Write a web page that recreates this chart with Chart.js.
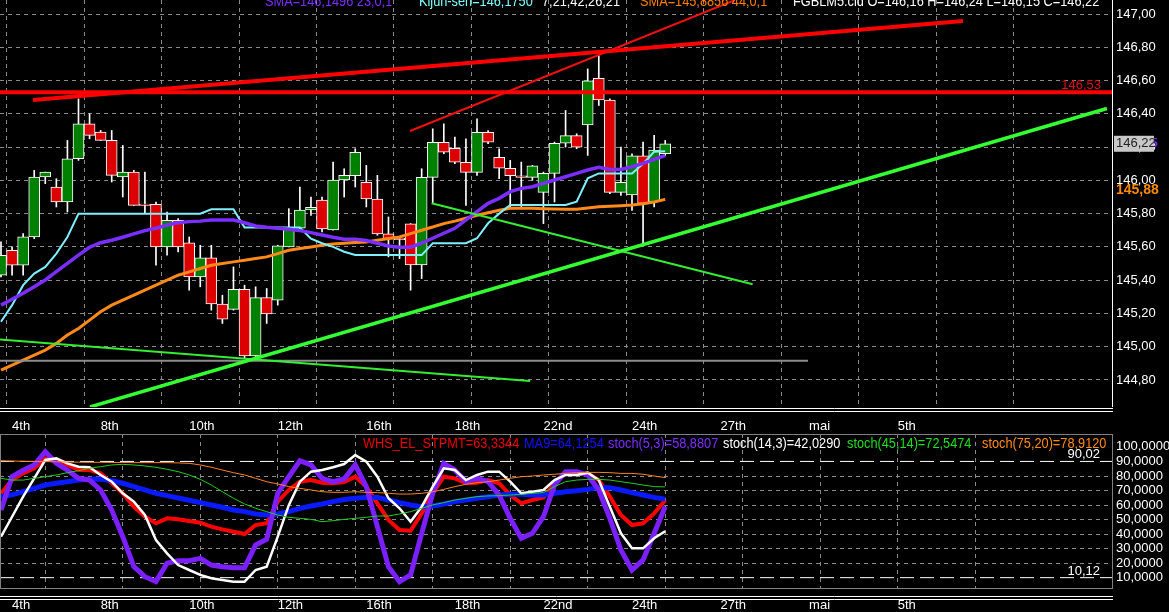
<!DOCTYPE html>
<html>
<head>
<meta charset="utf-8">
<script src="https://cdn.jsdelivr.net/npm/chart.js@4.4.1/dist/chart.umd.min.js"></script>
<style>
  body { margin: 0; background: #000; overflow: hidden; }
  #wrap { position: relative; width: 1169px; height: 612px; overflow: hidden; background: #000; }
  canvas { position: absolute; left: 0; }
  .hd { position: absolute; font: 15px "Liberation Sans", Arial, sans-serif; line-height: 15px; white-space: pre;
        transform: scaleX(0.85); transform-origin: 0 0; }
</style>
</head>
<body>
<div id="wrap">
  <canvas id="top" width="1169" height="432" style="top:0"></canvas>
  <canvas id="bot" width="1169" height="180" style="top:432px"></canvas>

  <div class="hd" style="left:265px;top:-7px;color:#7b2fff">SMA=146,1496 23,0,1</div>
  <div class="hd" style="left:419px;top:-7px;color:#80ffff">Kijun-sen=146,1750</div>
  <div class="hd" style="left:542px;top:-7px;color:#fff">7,21,42,26,21</div>
  <div class="hd" style="left:640px;top:-7px;color:#ff8000">SMA=145,8856 44,0,1</div>
  <div class="hd" style="left:793px;top:-7px;color:#fff">FGBLM5.cld O=146,16 H=146,24 L=146,15 C=146,22</div>

  <div class="hd" style="left:363px;top:435px;color:#ee0000">WHS_EL_STPMT=63,3344</div>
  <div class="hd" style="left:524px;top:435px;color:#1010ff">MA9=64,1254</div>
  <div class="hd" style="left:608px;top:435px;color:#7b2fff">stoch(5,3)=58,8807</div>
  <div class="hd" style="left:723px;top:435px;color:#fff">stoch(14,3)=42,0290</div>
  <div class="hd" style="left:847px;top:435px;color:#22dd22">stoch(45,14)=72,5474</div>
  <div class="hd" style="left:982px;top:435px;color:#ff8c1a">stoch(75,20)=78,9120</div>
</div>

<script>
const FONT = '"Liberation Sans", Arial, sans-serif';
const FSIZE = 13;

// bougies FGBLM5, une par barre (index 0..60)
const opens = [145.43, 145.58, 145.49, 145.66, 146.02, 145.96, 145.87, 146.13, 146.34, 146.29,
  146.24, 146.02, 146.05, 145.858, 145.856, 145.60, 145.76, 145.625, 145.42, 145.535,
  145.257, 145.225, 145.345, 144.944, 145.295, 145.28, 145.60, 145.712, 145.822, 145.882,
  145.702, 146.002, 146.028, 145.988, 145.888, 145.678, 145.652, 145.738, 145.491, 146.018,
  146.229, 146.193, 146.109, 146.048, 146.289, 146.139, 146.073, 146.028, 146.018, 145.928,
  146.042, 146.223, 146.269, 146.333, 146.613, 146.483, 145.928, 145.912, 146.148, 145.872,
  146.16];
const highs = [145.63, 145.60, 145.68, 146.06, 146.05, 146.01, 146.24, 146.49, 146.40, 146.30,
  146.30, 146.21, 146.06, 146.05, 145.87, 145.81, 145.77, 145.66, 145.61, 145.61,
  145.31, 145.48, 145.37, 145.36, 145.35, 145.61, 145.83, 145.96, 145.90, 145.90,
  146.11, 146.07, 146.19, 146.09, 146.03, 145.78, 145.66, 145.74, 146.07, 146.31,
  146.34, 146.26, 146.25, 146.37, 146.30, 146.19, 146.12, 146.11, 146.09, 146.05,
  146.23, 146.42, 146.28, 146.67, 146.75, 146.49, 146.20, 146.16, 146.23, 146.27,
  146.24];
const lows = [145.42, 145.43, 145.43, 145.65, 145.98, 145.84, 145.81, 146.12, 146.25, 146.24,
  145.99, 145.90, 145.85, 145.80, 145.49, 145.55, 145.57, 145.34, 145.36, 145.22,
  145.14, 145.22, 144.93, 144.93, 145.14, 145.25, 145.60, 145.71, 145.79, 145.69,
  145.70, 145.90, 145.96, 145.84, 145.67, 145.54, 145.53, 145.34, 145.41, 145.86,
  146.16, 146.10, 145.85, 146.03, 146.22, 146.01, 145.84, 145.84, 146.00, 145.74,
  145.87, 146.20, 146.19, 146.15, 146.45, 145.92, 145.91, 145.82, 145.62, 145.84,
  146.15];
const closes = [145.55, 145.49, 145.66, 146.02, 146.05, 145.87, 146.13, 146.34, 146.27, 146.24,
  146.03, 146.05, 145.85, 145.850, 145.60, 145.76, 145.60, 145.42, 145.535, 145.257,
  145.165, 145.345, 144.944, 145.295, 145.197, 145.607, 145.712, 145.822, 145.838, 145.708,
  146.002, 146.03, 146.169, 145.888, 145.678, 145.646, 145.644, 145.491, 146.018, 146.229,
  146.169, 146.109, 146.048, 146.289, 146.229, 146.073, 146.028, 146.018, 146.088, 146.042,
  146.223, 146.269, 146.199, 146.599, 146.483, 145.928, 145.988, 146.148, 145.862, 146.182,
  146.22];

// moyennes du panneau prix
const sma23 = [145.25, 145.285, 145.321, 145.361, 145.401, 145.451, 145.501, 145.551, 145.598, 145.625,
  145.64, 145.658, 145.678, 145.698, 145.712, 145.732, 145.745, 145.752, 145.755, 145.762,
  145.762, 145.762, 145.745, 145.726, 145.718, 145.712, 145.706, 145.698, 145.686, 145.672,
  145.658, 145.646, 145.646, 145.638, 145.622, 145.606, 145.598, 145.598, 145.622, 145.652,
  145.682, 145.712, 145.762, 145.812, 145.862, 145.892, 145.932, 145.952, 145.962, 145.982,
  146.002, 146.022, 146.042, 146.062, 146.078, 146.066, 146.066, 146.082, 146.102, 146.126,
  146.1496];
const kijun = [145.15, 145.25, 145.37, 145.44, 145.48, 145.56, 145.66, 145.80, 145.80, 145.80,
  145.80, 145.80, 145.80, 145.80, 145.80, 145.80, 145.80, 145.80, 145.80, 145.826,
  145.826, 145.826, 145.716, 145.716, 145.716, 145.716, 145.716, 145.716, 145.65, 145.622,
  145.60, 145.571, 145.551, 145.551, 145.551, 145.551, 145.551, 145.551, 145.551, 145.622,
  145.622, 145.622, 145.622, 145.652, 145.742, 145.80, 145.852, 145.852, 145.852, 145.852,
  145.852, 145.852, 145.872, 146.012, 146.042, 146.042, 146.042, 146.042, 146.10, 146.172,
  146.175];
const sma44 = [144.86, 144.89, 144.92, 144.95, 144.98, 145.02, 145.07, 145.11, 145.16, 145.21,
  145.25, 145.28, 145.31, 145.34, 145.37, 145.40, 145.43, 145.45, 145.47, 145.49,
  145.50, 145.51, 145.52, 145.53, 145.54, 145.56, 145.58, 145.59, 145.60, 145.61,
  145.618, 145.622, 145.626, 145.63, 145.64, 145.65, 145.66, 145.68, 145.70, 145.72,
  145.74, 145.755, 145.772, 145.79, 145.805, 145.82, 145.832, 145.832, 145.832, 145.83,
  145.828, 145.826, 145.826, 145.834, 145.842, 145.845, 145.848, 145.852, 145.86, 145.87,
  145.8856];

// oscillateurs du panneau bas
const whs = [68.1, 77.2, 81.8, 85.3, 92.1, 89.9, 87.6, 84.1, 84.1, 81.8,
  75, 68.1, 58.9, 52, 47.5, 50.9, 50.2, 49.1, 47.9, 45.2,
  43.3, 41.7, 40.1, 46.3, 47.5, 62.4, 70.4, 76.1, 77.2, 75.4,
  75, 75.8, 79.5, 72.7, 61.2, 49.8, 42.9, 42.4, 54.3, 68.1,
  79.5, 78.4, 75, 75.4, 77.2, 75, 66.9, 61.2, 63.5, 65.3,
  75, 81.8, 81.8, 81.8, 77.2, 65.8, 53.2, 46.3, 47.5, 54.3,
  63.3];
const ma9 = [65.8, 67, 69.2, 71.5, 73.8, 75, 76.1, 77.2, 77.7, 77.9,
  76.8, 75, 72.7, 70.4, 68.1, 66.5, 64.9, 63.3, 61.7, 60.1,
  58.5, 56.6, 55.5, 53.9, 53.2, 53.9, 55.5, 57.8, 59.4, 60.8,
  62.4, 63.8, 64.7, 65.3, 65.3, 63.5, 61.7, 60.1, 58.9, 59.4,
  60.8, 62.4, 63.5, 64.7, 65.8, 66.9, 67.4, 67.4, 66.9, 66.9,
  68.1, 69.2, 69.9, 70.8, 72, 72, 70.4, 68.6, 66.9, 65.3,
  64.1];
const stoch5 = [56.6, 79.5, 84, 87.6, 96.7, 88.7, 84, 78.4, 77.2, 70.4,
  56.6, 38.3, 17.7, 10.8, 7.4, 20, 21.8, 21.8, 23.4, 18.8,
  17.7, 17, 17, 32.6, 36.5, 68.1, 79.5, 90.5, 87.6, 78.4,
  76.1, 78, 87.6, 72.7, 45.2, 17.7, 7.4, 12, 40.6, 68.1,
  88.7, 84.1, 76.1, 78.4, 76.1, 66.9, 50.9, 37.2, 40.6, 52,
  73.8, 83, 83, 80.7, 70.4, 50.9, 29.1, 15.4, 22.3, 40.6,
  58.9];
const stoch14 = [38.3, 52, 65.8, 78.4, 91, 92.1, 88.7, 86.4, 86, 80.7,
  76.1, 68.1, 62.4, 53.2, 36, 26.8, 18.8, 15.4, 12, 9.7,
  8.5, 7.4, 7.4, 15.4, 17.7, 38.3, 60, 76.1, 83, 84.1,
  86, 88.2, 94.4, 89.9, 79.5, 64.7, 57.8, 48.6, 58.9, 72.7,
  85.3, 84.1, 77.2, 80.7, 83, 83, 76.1, 68.1, 69.2, 70.4,
  77.2, 80.7, 80.7, 82.3, 77.2, 58.9, 40.6, 30.3, 30.3, 37.2,
  42];
const stoch45 = [78.4, 77.2, 77.2, 78.4, 79.5, 80.7, 82.3, 83.7, 85.3, 86.4,
  87.6, 88, 87.6, 86.9, 86, 84.6, 83, 80.7, 77.7, 73.8,
  69.2, 64.7, 60.8, 57.8, 55.5, 53.2, 51.6, 50.9, 50.2, 48.6,
  49.3, 50.2, 50.9, 51.6, 52.5, 52.5, 53.9, 55.5, 57.8, 60.1,
  61.7, 63.5, 64.7, 65.8, 66.3, 66.5, 66.9, 67.4, 68.1, 68.6,
  72.7, 76.1, 77.2, 77.7, 77.7, 77.2, 76.1, 75, 73.8, 72.7,
  72.5];
const stoch75 = [90.5, 90.3, 90.1, 90, 89.9, 89.8, 89.6, 89.5, 89.4, 89.4,
  89.3, 89.3, 89.2, 89.2, 89.2, 89.2, 89, 88.7, 87.6, 86,
  84.1, 82.3, 80.7, 78.4, 76.1, 74.5, 72.7, 71.5, 70.4, 69.2,
  68.8, 68.8, 69.2, 68.8, 68.6, 68.1, 67.6, 67.6, 68.1, 69.2,
  70.8, 72.7, 74.3, 75.4, 76.1, 77.2, 78.4, 79.5, 80, 80.7,
  81.2, 81.8, 82.3, 82.5, 82.5, 82.3, 81.8, 81.8, 81.2, 80,
  78.9];

// axes
const dateLabels = ["4th", "8th", "10th", "12th", "16th", "18th", "22nd", "24th", "27th", "mai", "5th"];
const labelBars = [1, 9, 17, 25, 33, 41, 49, 57, 65, 73, 81];
const gridBars = [4, 11, 18, 25, 32, 39, 46, 53, 60, 67, 74, 81, 88];
const priceTicks = [144.8, 145.0, 145.2, 145.4, 145.6, 145.8, 146.0, 146.2, 146.4, 146.6, 146.8, 147.0];
const oscTicks = [10, 20, 30, 40, 50, 60, 70, 80, 90, 100];
const oscLevels = [90.02, 10.12];
const resistance = 146.53;

// lignes tracées à la main : [barre, prix]
const redUpper = [[2.89, 146.483], [86.9, 146.958]];
const redThin = [[36.95, 146.297], [66.3, 147.084]];
const greenUpper = [[8.04, 144.638], [99.9, 146.432]];
const greenLeft = [[-0.09, 145.044], [47.8, 144.794]];
const greenMid = [[38.9, 145.862], [67.9, 145.376]];
const grayLine = [[-0.09, 144.916], [72.9, 144.916]];

const xMin = -0.09, xMax = 100.36;

const fmt2 = (v) => v.toFixed(2).replace(".", ",");
const trunc2 = (v) => (Math.floor(v * 100) / 100).toFixed(2).replace(".", ",");
const fmt4 = (v) => v.toFixed(4).replace(".", ",");
const pts = (arr) => arr.map((v, i) => ({ x: i, y: v }));
const last = (arr) => arr[arr.length - 1];

function seg(points, color, width, order) {
  return {
    type: "line",
    data: points.map((p) => ({ x: p[0], y: p[1] })),
    borderColor: color,
    borderWidth: width,
    pointRadius: 0,
    tension: 0,
    order: order,
  };
}

function curve(arr, color, width, order) {
  return {
    type: "line",
    data: pts(arr),
    borderColor: color,
    borderWidth: width,
    pointRadius: 0,
    tension: 0,
    order: order,
  };
}

function xAxes(labelPadding, axisHeight) {
  return {
    x: {
      type: "linear", min: xMin, max: xMax, offset: false, position: "bottom",
      grid: { display: false, drawTicks: false },
      border: { display: false },
      afterBuildTicks: (s) => { s.ticks = labelBars.map((v) => ({ value: v })); },
      afterFit: (s) => { s.height = axisHeight; s.paddingLeft = 0; s.paddingRight = 0; },
      ticks: {
        color: "#fff", font: { family: FONT, size: FSIZE }, padding: labelPadding,
        align: "start", maxRotation: 0, autoSkip: false,
        callback: (v, i) => dateLabels[i],
      },
    },
    xg: {
      type: "linear", min: xMin, max: xMax, offset: false, position: "top",
      grid: { color: "#8a8a8a", drawTicks: false },
      border: { display: false, dash: [4, 4] },
      ticks: { display: false },
      afterBuildTicks: (s) => { s.ticks = gridBars.map((v) => ({ value: v })); },
      afterFit: (s) => { s.height = 0; },
    },
  };
}

// décor du panneau prix
const topDecor = {
  id: "topDecor",
  afterDraw(chart) {
    const { ctx, chartArea: a } = chart;
    const y = chart.scales.y;
    ctx.save();
    ctx.strokeStyle = "#fff";
    ctx.lineWidth = 1;
    ctx.beginPath();
    ctx.moveTo(a.right + 0.5, 0); ctx.lineTo(a.right + 0.5, a.bottom);
    ctx.moveTo(0, a.bottom + 1.5); ctx.lineTo(a.right + 1, a.bottom + 1.5);
    ctx.moveTo(0, a.bottom + 4.5); ctx.lineTo(a.right + 1, a.bottom + 4.5);
    ctx.stroke();

    ctx.font = FSIZE + "px " + FONT;
    ctx.textAlign = "right";
    ctx.textBaseline = "alphabetic";
    ctx.fillStyle = "#e01010";
    ctx.fillText(fmt2(resistance), a.right - 11, y.getPixelForValue(resistance) - 3);

    const cy = y.getPixelForValue(last(closes));
    ctx.textAlign = "left";
    ctx.textBaseline = "middle";
    ctx.font = "bold " + FSIZE + "px " + FONT;
    ctx.fillStyle = "#7b2fff";
    ctx.fillText(fmt2(last(sma23)), a.right + 6, cy);
    ctx.fillStyle = "#c8c8c8";
    ctx.fillRect(a.right + 2, cy - 8, 40, 16);
    ctx.font = FSIZE + "px " + FONT;
    ctx.fillStyle = "#222";
    ctx.fillText(fmt2(last(closes)), a.right + 4, cy);
    ctx.font = "bold 14px " + FONT;
    ctx.fillStyle = "#ff8c00";
    ctx.fillText(trunc2(last(sma44)), a.right + 4, y.getPixelForValue(last(sma44)) - 9);
    ctx.restore();
  },
};

// décor du panneau oscillateurs
const botDecor = {
  id: "botDecor",
  afterDraw(chart) {
    const { ctx, chartArea: a } = chart;
    const y = chart.scales.y;
    ctx.save();
    ctx.strokeStyle = "#808080";
    ctx.lineWidth = 1;
    ctx.strokeRect(0.5, a.top + 0.5, a.right, a.bottom - a.top);
    ctx.strokeStyle = "#fff";
    ctx.beginPath();
    ctx.moveTo(0, a.bottom + 8.5); ctx.lineTo(a.right + 1, a.bottom + 8.5);
    ctx.moveTo(0, a.bottom + 11.5); ctx.lineTo(a.right + 1, a.bottom + 11.5);
    ctx.stroke();
    ctx.font = FSIZE + "px " + FONT;
    ctx.fillStyle = "#fff";
    ctx.textAlign = "right";
    ctx.textBaseline = "alphabetic";
    oscLevels.forEach((lv) => {
      ctx.fillText(fmt2(lv), a.right - 12, y.getPixelForValue(lv) - 3);
    });
    ctx.restore();
  },
};

new Chart(document.getElementById("top"), {
  type: "bar",
  data: {
    datasets: [
      {
        label: "mèches",
        data: highs.map((h, i) => ({ x: i, y: [lows[i], h] })),
        backgroundColor: "#fff",
        barThickness: 1,
        grouped: false,
        order: 20,
      },
      {
        label: "corps",
        data: opens.map((o, i) => ({ x: i, y: [o, closes[i]] })),
        backgroundColor: opens.map((o, i) => (closes[i] >= o ? "#008000" : "#dd0000")),
        borderColor: "#fff",
        borderWidth: 1,
        borderSkipped: false,
        barThickness: 11,
        grouped: false,
        order: 19,
      },
      curve(sma44, "#ff8a1a", 3, 9),
      curve(kijun, "#80f0ff", 2, 8),
      curve(sma23, "#7b2fff", 3.5, 7),
      seg(grayLine, "#8c8c8c", 2, 6),
      seg(greenLeft, "#33ee33", 2, 5),
      seg(greenMid, "#33ee33", 2, 5),
      seg(greenUpper, "#33ff33", 3.5, 4),
      seg(redThin, "#ee1111", 2, 3),
      seg(redUpper, "#ff0000", 4, 2),
      seg([[xMin, resistance], [xMax, resistance]], "#ff0000", 4, 1),
    ],
  },
  options: {
    responsive: false,
    animation: false,
    events: [],
    layout: { padding: 0, autoPadding: false },
    plugins: { legend: { display: false }, tooltip: { enabled: false } },
    scales: Object.assign(xAxes(12, 25), {
      y: {
        type: "linear", position: "right", min: 144.6377, max: 147.0842,
        grid: { color: "#8a8a8a", drawTicks: false },
        border: { display: false, dash: [4, 4] },
        afterBuildTicks: (s) => { s.ticks = priceTicks.map((v) => ({ value: v })); },
        afterFit: (s) => { s.width = 57; s.paddingTop = 0; s.paddingBottom = 0; },
        ticks: { color: "#fff", font: { family: FONT, size: FSIZE }, padding: 4, autoSkip: false, callback: (v) => fmt2(v) },
      },
    }),
  },
  plugins: [topDecor],
});

new Chart(document.getElementById("bot"), {
  type: "line",
  data: {
    datasets: [
      seg([[xMin, oscLevels[0]], [xMax, oscLevels[0]]], "#fff", 1, 10),
      seg([[xMin, oscLevels[1]], [xMax, oscLevels[1]]], "#fff", 1, 10),
      curve(whs, "#ff0000", 4, 6),
      curve(ma9, "#0a1aff", 5, 5),
      curve(stoch5, "#7b1fff", 5, 4),
      curve(stoch14, "#ffffff", 2.5, 3),
      curve(stoch45, "#22cc22", 1, 2),
      curve(stoch75, "#ff8020", 1, 1),
    ].map((d, i) => (i < 2 ? Object.assign(d, { borderDash: [14, 6] }) : d)),
  },
  options: {
    responsive: false,
    animation: false,
    events: [],
    layout: { padding: { top: 2 }, autoPadding: false },
    plugins: { legend: { display: false }, tooltip: { enabled: false } },
    scales: Object.assign(xAxes(10, 24), {
      y: {
        type: "linear", position: "right", min: 3.02, max: 108.87,
        grid: {
          color: (c) => (c.tick && c.tick.value >= 20 && c.tick.value <= 80 ? "#8a8a8a" : "transparent"),
          drawTicks: false,
        },
        border: { display: false, dash: [4, 4] },
        afterBuildTicks: (s) => { s.ticks = oscTicks.map((v) => ({ value: v })); },
        afterFit: (s) => { s.width = 57; s.paddingTop = 0; s.paddingBottom = 0; },
        ticks: { color: "#fff", font: { family: FONT, size: FSIZE }, padding: 4, autoSkip: false, callback: (v) => fmt4(v) },
      },
    }),
  },
  plugins: [botDecor],
});
</script>
</body>
</html>
